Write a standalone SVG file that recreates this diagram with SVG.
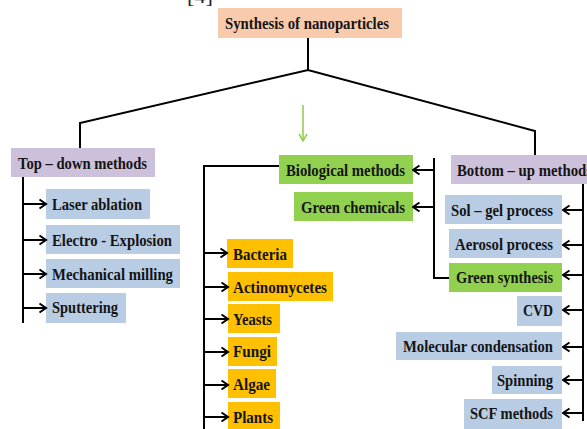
<svg xmlns="http://www.w3.org/2000/svg" width="587" height="429" viewBox="0 0 587 429">
<style>
.t{font-family:"Liberation Serif","Times New Roman",serif;font-weight:bold;font-size:16.5px;fill:#141414}
.ln{fill:none;stroke:#000;stroke-width:2}
.ar{fill:none;stroke:#000;stroke-width:2;marker-end:url(#ah)}
.peach{fill:#F8CBAD}.purple{fill:#CCC0DA}.blue{fill:#B8CCE4}.green{fill:#92D050}.orange{fill:#FFC000}
</style>
<defs>
<marker id="ah" viewBox="0 0 12 12" refX="10.5" refY="6" markerWidth="12" markerHeight="12" markerUnits="userSpaceOnUse" orient="auto">
<path d="M4,1.5 L10.5,6 L4,10.5" fill="none" stroke="#000" stroke-width="2" stroke-linejoin="miter"/>
</marker>
<marker id="gah" viewBox="0 0 10 10" refX="9" refY="5" markerWidth="10" markerHeight="10" markerUnits="userSpaceOnUse" orient="auto">
<path d="M2,1 L9,5 L2,9" fill="none" stroke="#92D050" stroke-width="1.6"/>
</marker>
</defs>
<rect width="587" height="429" fill="#fff"/>
<text x="187" y="3" font-family="Liberation Serif,serif" font-size="18" fill="#222" textLength="26" lengthAdjust="spacingAndGlyphs">[4]</text>

<g id="title"><rect class="peach" x="218" y="8" width="184" height="30"/><text class="t" x="225" y="29" font-size="17.5" textLength="164" lengthAdjust="spacingAndGlyphs">Synthesis of nanoparticles</text></g>

<g id="topdown"><rect class="purple" x="11" y="148" width="144" height="29"/><text class="t" x="18" y="169" textLength="129" lengthAdjust="spacingAndGlyphs">Top – down methods</text></g>
<g id="laser"><rect class="blue" x="46" y="189" width="104" height="30"/><text class="t" x="52" y="210" textLength="90" lengthAdjust="spacingAndGlyphs">Laser ablation</text></g>
<g id="electro"><rect class="blue" x="46" y="225" width="134" height="29"/><text class="t" x="52" y="246" textLength="120" lengthAdjust="spacingAndGlyphs">Electro - Explosion</text></g>
<g id="mech"><rect class="blue" x="46" y="259" width="134" height="29"/><text class="t" x="52" y="280" textLength="121" lengthAdjust="spacingAndGlyphs">Mechanical milling</text></g>
<g id="sputter"><rect class="blue" x="46" y="293" width="80" height="30"/><text class="t" x="52" y="313" textLength="66" lengthAdjust="spacingAndGlyphs">Sputtering</text></g>

<g id="bio"><rect class="green" x="279" y="155" width="134" height="29"/><text class="t" x="286" y="176" textLength="119" lengthAdjust="spacingAndGlyphs">Biological methods</text></g>
<g id="greenchem"><rect class="green" x="294" y="192" width="119" height="29"/><text class="t" x="301" y="213" textLength="104" lengthAdjust="spacingAndGlyphs">Green chemicals</text></g>

<g id="bacteria"><rect class="orange" x="227" y="239" width="66" height="29"/><text class="t" x="233" y="260" textLength="54" lengthAdjust="spacingAndGlyphs">Bacteria</text></g>
<g id="actino"><rect class="orange" x="228" y="272" width="105" height="29"/><text class="t" x="233" y="293" textLength="94" lengthAdjust="spacingAndGlyphs">Actinomycetes</text></g>
<g id="yeasts"><rect class="orange" x="228" y="304" width="52" height="29"/><text class="t" x="233" y="325" textLength="39" lengthAdjust="spacingAndGlyphs">Yeasts</text></g>
<g id="fungi"><rect class="orange" x="228" y="337" width="49" height="29"/><text class="t" x="233" y="357" textLength="38" lengthAdjust="spacingAndGlyphs">Fungi</text></g>
<g id="algae"><rect class="orange" x="228" y="369" width="48" height="29"/><text class="t" x="233" y="390" textLength="37" lengthAdjust="spacingAndGlyphs">Algae</text></g>
<g id="plants"><rect class="orange" x="228" y="402" width="52" height="29"/><text class="t" x="233" y="423" textLength="40" lengthAdjust="spacingAndGlyphs">Plants</text></g>

<g id="bottomup"><rect class="purple" x="451" y="155" width="140" height="29"/><text class="t" x="457" y="176" textLength="135" lengthAdjust="spacingAndGlyphs">Bottom – up methods</text></g>
<g id="solgel"><rect class="blue" x="445" y="195" width="117" height="29"/><text class="t" x="451" y="216" textLength="102" lengthAdjust="spacingAndGlyphs">Sol – gel process</text></g>
<g id="aerosol"><rect class="blue" x="449" y="229" width="113" height="29"/><text class="t" x="455" y="250" textLength="98" lengthAdjust="spacingAndGlyphs">Aerosol process</text></g>
<g id="greensyn"><rect class="green" x="449" y="263" width="113" height="29"/><text class="t" x="456" y="283" textLength="97" lengthAdjust="spacingAndGlyphs">Green synthesis</text></g>
<g id="cvd"><rect class="blue" x="517" y="296" width="45" height="30"/><text class="t" x="523" y="316" textLength="30" lengthAdjust="spacingAndGlyphs">CVD</text></g>
<g id="molcond"><rect class="blue" x="396" y="332" width="166" height="28"/><text class="t" x="403" y="352" textLength="150" lengthAdjust="spacingAndGlyphs">Molecular condensation</text></g>
<g id="spinning"><rect class="blue" x="492" y="366" width="70" height="28"/><text class="t" x="497" y="386" textLength="56" lengthAdjust="spacingAndGlyphs">Spinning</text></g>
<g id="scf"><rect class="blue" x="464" y="399" width="98" height="30"/><text class="t" x="470" y="419" textLength="83" lengthAdjust="spacingAndGlyphs">SCF methods</text></g>

<g id="connectors">
<path class="ln" d="M308,38 V70 M80,148 V123 L308,70 L535,131 V155"/>
<path d="M303,105 V141" fill="none" stroke="#92D050" stroke-width="1.6" marker-end="url(#gah)"/>
<path class="ln" d="M23,177 V323"/>
<path class="ar" d="M23,204 H46"/>
<path class="ar" d="M23,240 H46"/>
<path class="ar" d="M23,274 H46"/>
<path class="ar" d="M23,308 H46"/>
<path class="ln" d="M279,166 H204 V429"/>
<path class="ar" d="M204,253 H227"/>
<path class="ar" d="M204,287 H228"/>
<path class="ar" d="M204,319 H228"/>
<path class="ar" d="M204,352 H228"/>
<path class="ar" d="M204,385 H228"/>
<path class="ar" d="M204,417 H228"/>
<path class="ln" d="M434,158 V278 H449"/>
<path class="ar" d="M434,170 H413"/>
<path class="ar" d="M434,207 H413"/>
<path class="ln" d="M583,184 V421"/>
<path class="ar" d="M583,210 H563"/>
<path class="ar" d="M583,245 H563"/>
<path class="ar" d="M583,275 H563"/>
<path class="ar" d="M583,310 H563"/>
<path class="ar" d="M583,347 H563"/>
<path class="ar" d="M583,380 H563"/>
<path class="ar" d="M583,413 H563"/>
</g>
</svg>
